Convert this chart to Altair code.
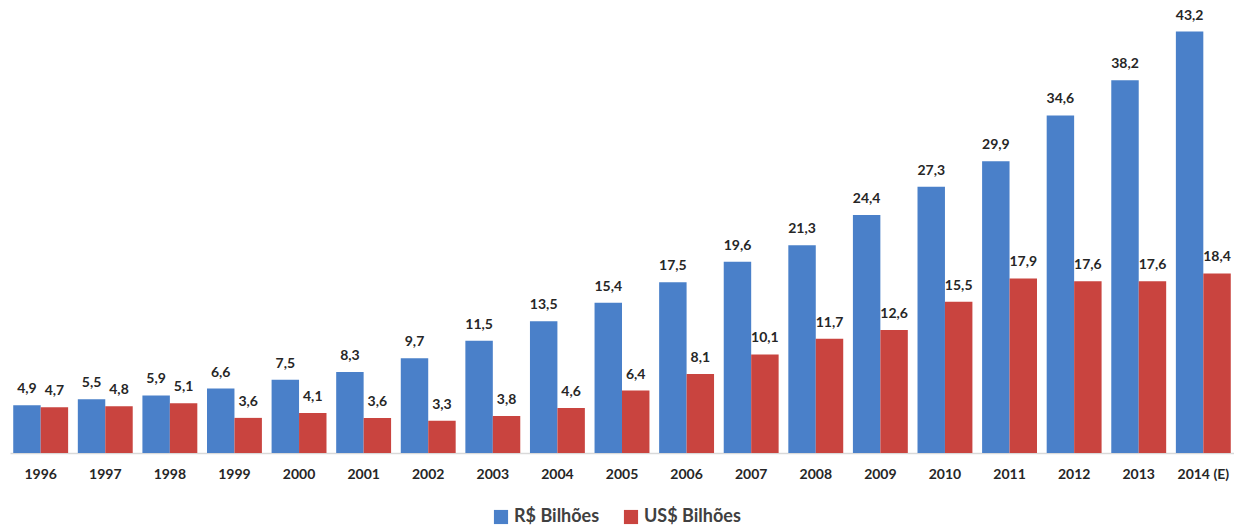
import altair as alt
import pandas as pd

years = ["1996", "1997", "1998", "1999", "2000", "2001", "2002", "2003", "2004", "2005",
         "2006", "2007", "2008", "2009", "2010", "2011", "2012", "2013", "2014 (E)"]
brl = [4.9, 5.5, 5.9, 6.6, 7.5, 8.3, 9.7, 11.5, 13.5, 15.4, 17.5, 19.6, 21.3, 24.4, 27.3, 29.9, 34.6, 38.2, 43.2]
usd = [4.7, 4.8, 5.1, 3.6, 4.1, 3.6, 3.3, 3.8, 4.6, 6.4, 8.1, 10.1, 11.7, 12.6, 15.5, 17.9, 17.6, 17.6, 18.4]
series = ["R$ Bilhões", "US$ Bilhões"]
colors = ["#4A80C9", "#C9443F"]

rows = []
for y, a, b in zip(years, brl, usd):
    rows.append({"ano": y, "serie": series[0], "valor": a, "rotulo": f"{a:.1f}".replace(".", ",")})
    rows.append({"ano": y, "serie": series[1], "valor": b, "rotulo": f"{b:.1f}".replace(".", ",")})
df = pd.DataFrame(rows)

FONT = "Lato"

x = alt.X("ano:N", sort=years, title=None,
          scale=alt.Scale(paddingInner=0.15, paddingOuter=0.05),
          axis=alt.Axis(labelAngle=0, ticks=False, domainColor="#d9d9d9", domainWidth=1.5,
                        labelFont=FONT, labelFontSize=14, labelFontWeight="bold",
                        labelColor="#262626", labelPadding=14))
xo = alt.XOffset("serie:N", sort=series)
y = alt.Y("valor:Q", scale=alt.Scale(domain=[0, 45]), axis=None)

base = alt.Chart(df)

bars = base.mark_bar().encode(
    x=x, xOffset=xo, y=y,
    color=alt.Color("serie:N", sort=series, scale=alt.Scale(domain=series, range=colors),
                    legend=alt.Legend(title=None, orient="none", direction="horizontal",
                                      legendX=482, legendY=494, symbolType="square",
                                      symbolSize=200, labelFont=FONT, labelFontSize=18,
                                      labelFontWeight="bold", labelColor="#404040",
                                      columnPadding=22, symbolStrokeWidth=0)),
)

labels = base.mark_text(baseline="bottom", dy=-9, font=FONT, fontSize=14,
                        fontWeight="bold", color="#262626").encode(
    x=x, xOffset=xo, y=y, text="rotulo:N")

chart = (bars + labels).properties(
    width=1224, height=439, background="white",
    padding={"left": 2, "top": 0, "right": 0, "bottom": 0},
).configure_view(stroke=None)

chart.save("out.html", embed_options={"renderer": "svg", "actions": False})
